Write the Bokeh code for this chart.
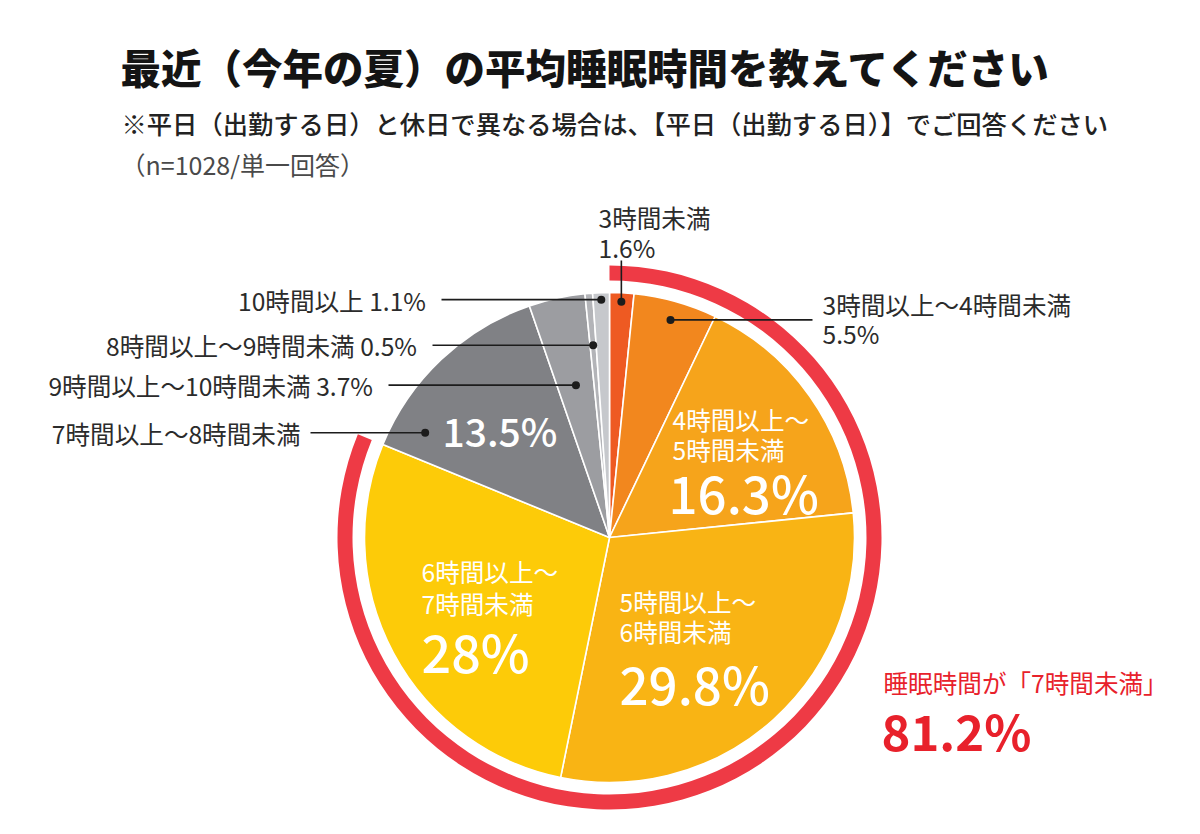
import math
from bokeh.plotting import figure
from bokeh.models import Range1d
from bokeh.core.properties import value
from bokeh.embed import file_html
from bokeh.resources import INLINE

# ---------------- data ----------------
title_text = "最近（今年の夏）の平均睡眠時間を教えてください"
subtitle_text = "※平日（出勤する日）と休日で異なる場合は、【平日（出勤する日）】でご回答ください"
note_text = "（n=1028/単一回答）"

categories = ["3時間未満", "3時間以上～4時間未満", "4時間以上～5時間未満",
              "5時間以上～6時間未満", "6時間以上～7時間未満", "7時間以上～8時間未満",
              "9時間以上～10時間未満", "8時間以上～9時間未満", "10時間以上"]
shares = [1.6, 5.5, 16.3, 29.8, 28.0, 13.5, 3.7, 0.5, 1.1]
pct_labels = ["1.6%", "5.5%", "16.3%", "29.8%", "28%", "13.5%", "3.7%", "0.5%", "1.1%"]
under7_count = 5  # first five categories are "under 7 hours"
under7_caption = "睡眠時間が「7時間未満」"
under7_label = "81.2%"

# ---------------- styles / layout ----------------
colors = ["#EE5A22", "#F2871E", "#F6A41B", "#F9B414", "#FDCB08",
          "#808185", "#9C9DA1", "#B3B4B8", "#C6C8CC"]
ring_color = "#EE3A45"
red_text = "#E8212B"
FONT = "Noto Sans CJK JP"
FONT_MED = "Noto Sans CJK JP Medium"
FONT_BLACK = "Noto Sans CJK JP Black"
W, H = 1184, 818

def Y(py):
    return 834 - py

CX, CY = 609, Y(537)
R = 245

p = figure(width=W, height=H, x_range=Range1d(0, W), y_range=Range1d(834 - H, 834),
           output_backend="svg", toolbar_location=None, min_border=0)
p.axis.visible = False
p.grid.visible = False
p.outline_line_color = None
p.background_fill_color = "white"

total = sum(shares)
cum = [0.0]
for s in shares:
    cum.append(cum[-1] + s)

def ang(c):
    return math.pi / 2 - 2 * math.pi * c / total

starts = [ang(c) for c in cum[:-1]]
ends = [ang(c) for c in cum[1:]]

# red ring for "under 7 hours"
p.annular_wedge(x=CX, y=CY, inner_radius=257, outer_radius=272,
                start_angle=ang(0), end_angle=ang(cum[under7_count]),
                direction="clock", fill_color=ring_color, line_color=None)

# pie slices
p.wedge(x=[CX] * len(shares), y=[CY] * len(shares), radius=R,
        start_angle=starts, end_angle=ends, direction="clock",
        fill_color=colors, line_color="white", line_width=1.6)

def pos(i, frac, r):
    c = cum[i] + shares[i] * frac
    a = ang(c)
    return CX + r * math.cos(a), CY + r * math.sin(a)

def txt(x, y, t, size, color="#2b2b2b", align="left", style="normal", font=FONT):
    p.text(x=[x], y=[y], text=[t], text_font=value(font), text_font_size=size,
           text_color=color, text_align=align, text_baseline="middle",
           text_font_style=style)

# titles
txt(120, Y(66), title_text, "40.5px", color="#141414", font=FONT_BLACK)
txt(121, Y(122), subtitle_text, "25.3px", color="#222222", font=FONT_MED)
txt(120, Y(163), note_text, "25px", color="#4a4a4a")

LC = "#1c1c1c"
LS = "24.6px"
# leader for 3時間未満 (vertical)
dx0, dy0 = pos(0, 0.5, 236)
p.segment(x0=[dx0], y0=[dy0], x1=[dx0], y1=[Y(260)], line_color=LC, line_width=1.6)
p.scatter(x=[dx0], y=[dy0], size=8, fill_color=LC, line_color=None)
txt(598, Y(216), categories[0], LS)
txt(598, Y(246), pct_labels[0], LS)

# leader for 3-4h (to the right)
dx1, dy1 = pos(1, 0.5, 226)
p.segment(x0=[dx1], y0=[dy1], x1=[812], y1=[dy1], line_color=LC, line_width=1.6)
p.scatter(x=[dx1], y=[dy1], size=8, fill_color=LC, line_color=None)
txt(822, Y(303), categories[1], LS)
txt(822, Y(332), pct_labels[1], LS)

# left side leaders
left_specs = [(8, 0.5, 238, 431, True), (7, 0.5, 193, 422, True),
              (6, 0.5, 156, 378, True), (5, 0.15, 212, 300, False)]
for i, frac, r, tx, with_pct in left_specs:
    dx, dy = pos(i, frac, r)
    p.segment(x0=[tx + 10], y0=[dy], x1=[dx], y1=[dy], line_color=LC, line_width=1.6)
    p.scatter(x=[dx], y=[dy], size=8, fill_color=LC, line_color=None)
    label = categories[i] + ("  " + pct_labels[i] if with_pct else "")
    txt(tx, dy, label, LS, align="right")

# inner labels
def split_cat(c):
    a, b = c.split("～")
    return a + "～", b

for i, (x, y1, y2, px, py, fs) in {2: (672, 418, 448, 668, 491, "51px"),
                                   3: (619, 600, 630, 619, 682, "51px"),
                                   4: (421, 570, 602, 421, 650, "52px")}.items():
    l1, l2 = split_cat(categories[i])
    txt(x, Y(y1), l1, LS, color="white")
    txt(x, Y(y2), l2, LS, color="white")
    txt(px, Y(py), pct_labels[i], fs, color="white", font=FONT_MED)
txt(442, Y(429), pct_labels[5], "39px", color="white", font=FONT_MED)

# red annotation
txt(883, Y(681), under7_caption, "24.6px", color=red_text)
txt(881, Y(729), under7_label, "49px", color=red_text, style="bold")

open("out.html", "w").write(file_html(p, INLINE))
